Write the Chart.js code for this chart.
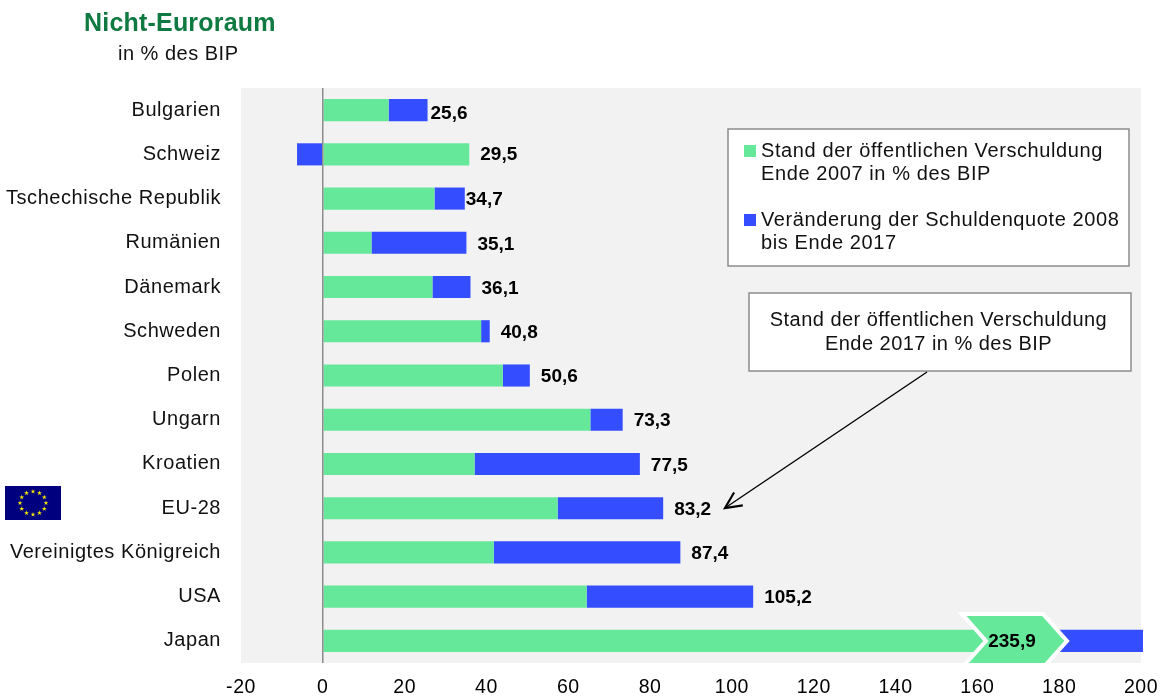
<!DOCTYPE html>
<html lang="de">
<head>
<meta charset="utf-8">
<title>Nicht-Euroraum</title>
<script src="https://cdn.jsdelivr.net/npm/chart.js@4/dist/chart.umd.min.js"></script>
<style>
html,body{margin:0;padding:0;background:#fff}
canvas{display:block}
</style>
</head>
<body>
<canvas id="debtChart" width="1165" height="697"></canvas>
<script>
const categories = ['Bulgarien','Schweiz','Tschechische Republik','Rumänien','Dänemark','Schweden','Polen','Ungarn','Kroatien','EU-28','Vereinigtes Königreich','USA','Japan'];
const debt2007 = [16.1,35.8,27.3,11.9,26.8,38.7,44.0,65.4,37.1,57.4,41.8,64.5,175.0];
const change2008to2017 = [9.5,-6.3,7.4,23.2,9.3,2.1,6.6,7.9,40.4,25.8,45.6,40.7,60.9];
const debt2017Labels = ['25,6','29,5','34,7','35,1','36,1','40,8','50,6','73,3','77,5','83,2','87,4','105,2','235,9'];
const xTickValues = [-20,0,20,40,60,80,100,120,140,160,180,200];
const legendEntries = [
  ['Stand der öffentlichen Verschuldung','Ende 2007 in % des BIP'],
  ['Veränderung der Schuldenquote 2008','bis Ende 2017']
];
const calloutLines = ['Stand der öffentlichen Verschuldung','Ende 2017 in % des BIP'];

const GREEN = '#66e89b', BLUE = '#334dff', FONT = '"Liberation Sans", Arial, sans-serif';

function textLine(ctx, str, x, y, font, color, align, spacing) {
  ctx.font = font;
  ctx.fillStyle = color;
  ctx.textAlign = align || 'left';
  ctx.textBaseline = 'middle';
  ctx.letterSpacing = spacing || '0px';
  ctx.fillText(str, x, y);
  ctx.letterSpacing = '0px';
}

function box(ctx, x, y, w, h) {
  ctx.fillStyle = '#fff';
  ctx.fillRect(x, y, w, h);
  ctx.strokeStyle = '#8c8c8c';
  ctx.lineWidth = 1.5;
  ctx.strokeRect(x, y, w, h);
}

function euFlag(ctx, x, y, w, h) {
  ctx.fillStyle = '#00007f';
  ctx.fillRect(x, y, w, h);
  const cx = x + w / 2, cy = y + h / 2;
  ctx.fillStyle = '#f2e600';
  for (let i = 0; i < 12; i++) {
    const a = i * Math.PI / 6;
    const px = cx + 13 * Math.sin(a), py = cy - 11.5 * Math.cos(a);
    ctx.beginPath();
    for (let k = 0; k < 10; k++) {
      const rad = k % 2 ? 1 : 2.6;
      const b = k * Math.PI / 5;
      ctx.lineTo(px + rad * Math.sin(b), py - rad * Math.cos(b));
    }
    ctx.closePath();
    ctx.fill();
  }
}

// Plot background behind the grid and bars; axis labels are tracked slightly wider
const plotBackground = {
  id: 'plotBackground',
  beforeDraw(chart) {
    const { ctx, chartArea: a } = chart;
    ctx.save();
    ctx.fillStyle = '#f2f2f2';
    ctx.fillRect(a.left, a.top, a.right - a.left, a.bottom - a.top);
    ctx.restore();
    ctx.letterSpacing = '0.55px';
  },
  beforeDatasetsDraw(chart) {
    chart.ctx.letterSpacing = '0px';
  }
};

// Titles, total labels, legend box, callout, arrow and flag
const chartDecorations = {
  id: 'chartDecorations',
  afterDraw(chart) {
    const { ctx, scales: { x, y }, chartArea: area } = chart;
    ctx.save();

    textLine(ctx, 'Nicht-Euroraum', 84, 24.5, 'bold 25px ' + FONT, '#0e7a41', 'left', '0.2px');
    textLine(ctx, 'in % des BIP', 118, 54.5, '20px ' + FONT, '#111', 'left', '0.5px');

    euFlag(ctx, 5, 486, 56, 34);

    // Total labels to the right of each stack
    debt2017Labels.forEach((label, i) => {
      if (i === debt2017Labels.length - 1) return;
      const end = debt2007[i] + Math.max(change2008to2017[i], 0);
      const gap = i === 0 ? 3 : i === 2 ? 1 : 11;
      const drop = i === 0 ? 3.5 : i === 1 ? 0.5 : 1.5;
      textLine(ctx, label, x.getPixelForValue(end) + gap, y.getPixelForValue(i) + drop, 'bold 19px ' + FONT, '#000');
    });

    // Japan runs off the axis, so its total sits in a chevron
    const last = debt2017Labels.length - 1;
    const jy = y.getPixelForValue(last);
    ctx.save();
    ctx.beginPath();
    ctx.rect(area.left, area.top, area.right - area.left + 2, area.bottom - area.top);
    ctx.clip();
    ctx.beginPath();
    ctx.moveTo(962, jy - 27);
    ctx.lineTo(1043, jy - 27);
    ctx.lineTo(1067, jy);
    ctx.lineTo(1043, jy + 27);
    ctx.lineTo(962, jy + 27);
    ctx.lineTo(986, jy);
    ctx.closePath();
    ctx.fillStyle = GREEN;
    ctx.strokeStyle = '#fff';
    ctx.lineWidth = 4;
    ctx.lineJoin = 'miter';
    ctx.fill();
    ctx.stroke();
    ctx.restore();
    textLine(ctx, debt2017Labels[last], 1012, jy + 0.5, 'bold 19px ' + FONT, '#000', 'center');

    // Legend box
    box(ctx, 728, 129, 401, 137);
    const legendColors = [GREEN, BLUE];
    const legendTops = [151.5, 220.5];
    legendEntries.forEach((lines, i) => {
      ctx.fillStyle = legendColors[i];
      ctx.fillRect(744, legendTops[i] - 6.5, 12, 12);
      lines.forEach((line, k) => {
        textLine(ctx, line, 761, legendTops[i] + k * 23, '20px ' + FONT, '#111', 'left', '0.6px');
      });
    });

    // Callout with arrow down to the EU-28 total
    box(ctx, 749, 293, 382, 78);
    calloutLines.forEach((line, k) => {
      textLine(ctx, line, 938.5, 320.5 + k * 24, '20px ' + FONT, '#111', 'center', '0.47px');
    });
    const x0 = 927, y0 = 372, x1 = 725, y1 = 508;
    const ang = Math.atan2(y1 - y0, x1 - x0), head = 18;
    ctx.strokeStyle = '#000';
    ctx.lineWidth = 1.4;
    ctx.beginPath();
    ctx.moveTo(x0, y0);
    ctx.lineTo(x1, y1);
    ctx.stroke();
    ctx.lineWidth = 2.2;
    ctx.beginPath();
    ctx.moveTo(x1 - head * Math.cos(ang - 0.45), y1 - head * Math.sin(ang - 0.45));
    ctx.lineTo(x1, y1);
    ctx.lineTo(x1 - head * Math.cos(ang + 0.45), y1 - head * Math.sin(ang + 0.45));
    ctx.stroke();

    ctx.restore();
  }
};

const barClip = { left: 6, top: 0, right: 2, bottom: 0 };

new Chart(document.getElementById('debtChart'), {
  type: 'bar',
  data: {
    labels: categories,
    datasets: [
      { label: 'Stand der öffentlichen Verschuldung Ende 2007 in % des BIP', data: debt2007, backgroundColor: GREEN, clip: barClip },
      { label: 'Veränderung der Schuldenquote 2008 bis Ende 2017', data: change2008to2017, backgroundColor: BLUE, clip: barClip }
    ]
  },
  options: {
    indexAxis: 'y',
    responsive: false,
    animation: false,
    layout: { padding: { top: 88, right: 24, bottom: 0, left: 0 } },
    datasets: { bar: { barPercentage: 0.5, categoryPercentage: 1 } },
    plugins: { legend: { display: false }, tooltip: { enabled: false }, title: { display: false } },
    scales: {
      x: {
        type: 'linear',
        stacked: true,
        min: -20,
        max: 200,
        afterBuildTicks(s) { s.ticks = xTickValues.map(value => ({ value })); },
        afterFit(s) { s.height = 34; s.paddingLeft = 0; s.paddingRight = 0; },
        border: { display: false },
        grid: {
          z: 1,
          drawTicks: false,
          lineWidth: 1.5,
          color: ctx => ctx.tick && ctx.tick.value === 0 ? '#8c8c8c' : 'rgba(0,0,0,0)'
        },
        ticks: { font: { family: FONT, size: 19.5 }, color: '#000', padding: 13, maxRotation: 0, autoSkip: false }
      },
      y: {
        type: 'category',
        stacked: true,
        afterFit(s) { s.width = 241; },
        border: { display: false },
        grid: { display: false, drawTicks: false },
        ticks: { font: { family: FONT, size: 20 }, color: '#111', padding: 20, autoSkip: false }
      }
    }
  },
  plugins: [plotBackground, chartDecorations]
});
</script>
</body>
</html>
